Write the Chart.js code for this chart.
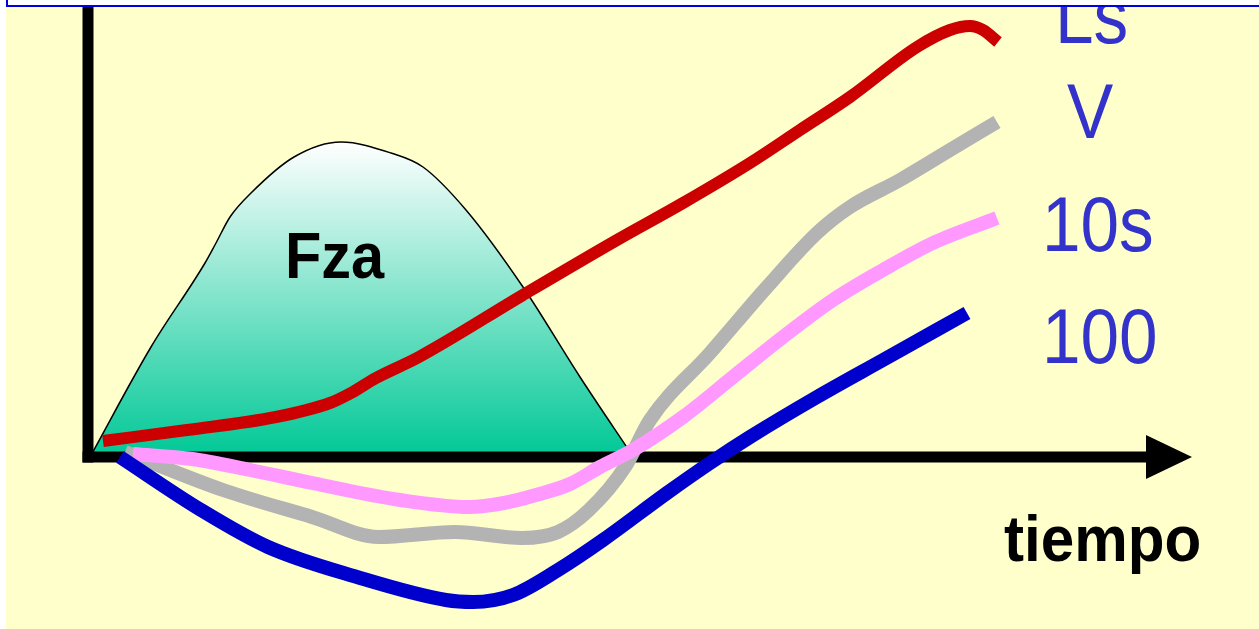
<!DOCTYPE html>
<html lang="es">
<head>
<meta charset="utf-8">
<title>Fza - tiempo</title>
<script src="https://cdn.jsdelivr.net/npm/chart.js@4.4.1/dist/chart.umd.min.js"></script>
<style>
    html, body { margin: 0; padding: 0; background: #ffffff; }
    #contenedor { position: relative; width: 1259px; height: 629px; }
</style>
</head>
<body>
<div id="contenedor"><canvas id="graficaFza"></canvas></div>
<script>
// Curva de fuerza (área sombreada)
const tiempoFza = [0.2, 6.3, 11.7, 12.8, 14.2, 16.3, 20.6, 25.3, 30.3, 33.5, 37.8, 43.5, 49.2, 54.4];
const valoresFza = [0, 11.0, 19.4, 21.4, 24.0, 26.4, 30.0, 31.5, 30.4, 29.0, 24.7, 17.0, 8.0, 0.2];

// Respuestas
const tiempoLs = [1.5, 9.9, 18.8, 24.2, 26.3, 28.8, 33.1, 43.5, 52.9, 59.5, 66.2, 71.2, 76.2, 82.9, 86.2, 88.2, 89.5, 91.0];
const valoresLs = [1.6, 2.7, 4.0, 5.4, 6.4, 7.9, 10.0, 16.2, 21.7, 25.4, 29.4, 32.7, 36.0, 41.0, 42.7, 43.1, 42.7, 41.5];

const tiempoV = [3.7, 13.5, 22.4, 29.1, 36.7, 43.4, 47.0, 50.1, 53.7, 56.2, 62.2, 67.9, 72.9, 76.2, 81.2, 86.2, 90.9];
const valoresV = [0.5, -3.3, -6.0, -8.0, -7.5, -8.1, -7.5, -5.3, -1.0, 3.7, 10.4, 17.0, 22.4, 25.0, 27.7, 30.7, 33.5];

const tiempo10s = [4.5, 10.4, 16.2, 22.4, 31.2, 38.1, 41.6, 44.8, 48.2, 51.2, 54.5, 59.5, 64.5, 69.5, 74.5, 79.5, 84.5, 90.9];
const valores10s = [0.3, -0.2, -1.3, -2.6, -4.3, -5.0, -4.6, -3.8, -2.7, -1.0, 0.7, 4.0, 8.0, 12.0, 15.7, 18.7, 21.4, 23.9];

const tiempo100 = [3.2, 11.3, 18.0, 26.9, 35.8, 38.5, 42.5, 47.0, 51.5, 57.9, 62.2, 66.2, 72.9, 79.5, 87.9];
const valores100 = [0, -5.3, -9.0, -12.0, -14.3, -14.5, -13.8, -11.3, -8.3, -3.6, -0.6, 2.0, 6.0, 9.7, 14.4];

const etiquetas = ['Ls', 'V', '10s', '100'];
const coloresSeries = ['#cc0000', '#b3b3b3', '#ff99ff', '#0000cc'];

function puntos(tiempos, valores) {
    return tiempos.map((t, i) => ({ x: t, y: valores[i] }));
}

function textoEstirado(ctx, texto, x, y, escalaX) {
    ctx.save();
    ctx.translate(x, y);
    ctx.scale(escalaX, 1);
    ctx.fillText(texto, 0, 0);
    ctx.restore();
}

const decoracion = {
    id: 'decoracion',
    beforeDraw(chart) {
        const ctx = chart.ctx;
        ctx.save();
        ctx.fillStyle = '#ffffff';
        ctx.fillRect(0, 0, chart.width, chart.height);
        ctx.fillStyle = '#ffffcc';
        ctx.fillRect(6, 6, chart.width - 6, chart.height - 6);
        ctx.restore();
    },
    // ejes encima del área de fuerza pero debajo de las curvas
    afterDatasetDraw(chart, args, opts) {
        if (args.index !== 4) return;
        const ctx = chart.ctx;
        const xs = chart.scales.x;
        const ys = chart.scales.y;
        const x0 = xs.getPixelForValue(0);
        const y0 = ys.getPixelForValue(0);
        const baseFlecha = xs.getPixelForValue(opts.baseFlecha);
        const puntaFlecha = xs.getPixelForValue(opts.puntaFlecha);

        ctx.save();
        ctx.fillStyle = '#000000';
        ctx.fillRect(x0 - 5.5, 7, 11, y0 - 7 + 5.5);
        ctx.fillRect(x0 - 5.5, y0 - 5.5, baseFlecha - x0 + 5.5, 11);
        ctx.beginPath();
        ctx.moveTo(baseFlecha, y0 - 22);
        ctx.lineTo(puntaFlecha, y0);
        ctx.lineTo(baseFlecha, y0 + 22);
        ctx.closePath();
        ctx.fill();

        ctx.font = 'bold 64px "Liberation Sans", Arial, sans-serif';
        ctx.textBaseline = 'alphabetic';
        textoEstirado(ctx, 'Fza', xs.getPixelForValue(opts.fza.x), ys.getPixelForValue(opts.fza.y), 0.93);
        textoEstirado(ctx, 'tiempo', xs.getPixelForValue(opts.tiempo.x), ys.getPixelForValue(opts.tiempo.y), 0.94);
        ctx.restore();
    },
    afterDatasetsDraw(chart, args, opts) {
        const ctx = chart.ctx;
        const xs = chart.scales.x;
        const ys = chart.scales.y;
        ctx.save();
        ctx.fillStyle = '#3333cc';
        ctx.font = '77px "Liberation Sans", Arial, sans-serif';
        ctx.textBaseline = 'alphabetic';
        etiquetas.forEach((txt, i) => {
            const p = opts.posEtiquetas[i];
            textoEstirado(ctx, txt, xs.getPixelForValue(p.x), ys.getPixelForValue(p.y), 0.9);
        });

        // franja superior con el borde azul
        ctx.fillStyle = '#ffffff';
        ctx.fillRect(0, 0, chart.width, 5);
        ctx.fillRect(0, 0, 6, chart.height);
        ctx.fillStyle = '#0000dd';
        ctx.fillRect(6, 5, chart.width - 6, 2);
        ctx.fillRect(6, 0, 2, 7);
        ctx.restore();
    }
};

function inicializarGrafica() {
    const ctx = document.getElementById('graficaFza').getContext('2d');
    const comunes = {
        pointRadius: 0,
        borderWidth: 13,
        fill: false,
        cubicInterpolationMode: 'monotone',
        borderCapStyle: 'butt'
    };

    new Chart(ctx, {
        type: 'line',
        data: {
            datasets: [
                { ...comunes, label: etiquetas[3], data: puntos(tiempo100, valores100), borderColor: coloresSeries[3], borderWidth: 14, order: 0 },
                { ...comunes, label: etiquetas[2], data: puntos(tiempo10s, valores10s), borderColor: coloresSeries[2], borderWidth: 14, order: 1 },
                { ...comunes, label: etiquetas[1], data: puntos(tiempoV, valoresV), borderColor: coloresSeries[1], borderWidth: 14, order: 2 },
                { ...comunes, label: etiquetas[0], data: puntos(tiempoLs, valoresLs), borderColor: coloresSeries[0], borderWidth: 12, order: 3 },
                {
                    label: 'Fza',
                    data: puntos(tiempoFza, valoresFza),
                    borderColor: '#000000',
                    borderWidth: 1.5,
                    pointRadius: 0,
                    cubicInterpolationMode: 'monotone',
                    fill: 'origin',
                    order: 10,
                    backgroundColor: (c) => {
                        const chart = c.chart;
                        if (!chart.chartArea) return '#00c896';
                        const ys = chart.scales.y;
                        const g = chart.ctx.createLinearGradient(0, ys.getPixelForValue(Math.max(...valoresFza)), 0, ys.getPixelForValue(0));
                        g.addColorStop(0, '#ffffff');
                        g.addColorStop(1, '#00c896');
                        return g;
                    }
                }
            ]
        },
        options: {
            responsive: true,
            maintainAspectRatio: false,
            animation: false,
            layout: { padding: 0 },
            scales: {
                x: { type: 'linear', min: -8.8, max: 117.1, display: false },
                y: { type: 'linear', min: -17.2, max: 45.7, display: false }
            },
            plugins: {
                legend: { display: false },
                tooltip: { enabled: false },
                decoracion: {
                    baseFlecha: 105.8,
                    puntaFlecha: 110.4,
                    fza: { x: 19.7, y: 17.9 },
                    tiempo: { x: 91.6, y: -10.4 },
                    posEtiquetas: [
                        { x: 96.7, y: 41.4 },
                        { x: 97.9, y: 31.9 },
                        { x: 95.4, y: 20.6 },
                        { x: 95.4, y: 9.4 }
                    ]
                }
            }
        },
        plugins: [decoracion]
    });
}

document.addEventListener('DOMContentLoaded', () => {
    inicializarGrafica();
});
</script>
</body>
</html>
